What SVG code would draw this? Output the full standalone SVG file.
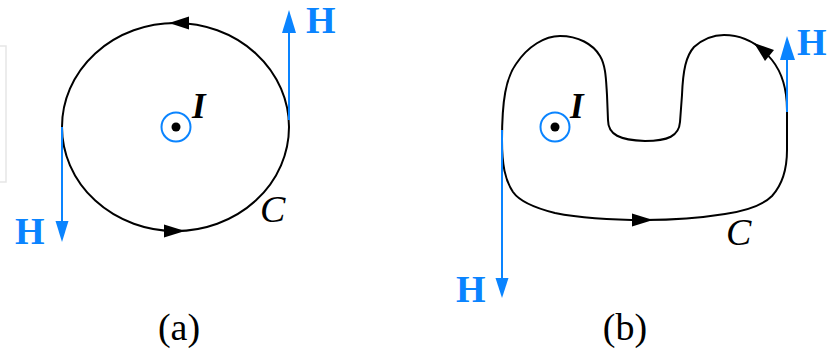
<svg xmlns="http://www.w3.org/2000/svg" width="832" height="350" viewBox="0 0 832 350">
<style>
.loop{fill:none;stroke:#000;stroke-width:2}
.ah{fill:#000;stroke:none}
.hline{stroke:#0a84ff;stroke-width:2;fill:none}
.hhead{fill:#0a84ff;stroke:none}
.hlab{font-family:"Liberation Serif","Times New Roman",serif;font-weight:bold;font-size:38px;fill:#0a84ff}
.it{font-family:"Liberation Serif","Times New Roman",serif;font-style:italic;font-size:38px;fill:#000}
.itb{font-family:"Liberation Serif","Times New Roman",serif;font-style:italic;font-weight:bold;font-size:35px;fill:#000}
.cap{font-family:"Liberation Serif","Times New Roman",serif;font-size:38px;fill:#000;text-anchor:middle}
.ring{fill:none;stroke:#0a84ff;stroke-width:2}
</style>
<rect x="-2" y="46" width="8" height="136" fill="#ffffff" stroke="#e6e6e6" stroke-width="1.5"/>
<g id="loop-a">
<ellipse class="loop" cx="175.5" cy="127" rx="113.5" ry="104"/>
<polygon class="ah" points="169,23 189,16.5 189,29.5"/>
<polygon class="ah" points="185,231 164,224.5 164,237.5"/>
<text class="it" x="260" y="222">C</text>
</g>
<g id="current-a">
<circle class="ring" cx="176" cy="127" r="14.5"/>
<circle cx="176" cy="127" r="4.5" fill="#000"/>
<text class="itb" x="192" y="118">I</text>
</g>
<g id="loop-b">
<path class="loop" d="M 502,140 C 502,100 506,78 516,64 C 528,46 545,36 560,36 C 578,36 593,44 600,56 C 606,66 606,80 607,95 L 608,120 C 608,135 620,140 645,141 C 668,141 679,136 680,122 L 682,95 C 683,70 686,56 694,47 C 703,39 712,35 724,35 C 745,35 760,45 772,60 C 784,75 787,92 787,110 L 787,150 C 787,170 782,185 772,196 C 762,206 745,211 725,214 C 700,218 670,220 645,220 C 610,220 575,217 555,213 C 535,208 520,202 513,192 C 505,180 502,165 502,140 Z"/>
<polygon class="ah" points="653,220 632,213.5 632,226.5"/>
<polygon class="ah" points="754,43 774,50 765,61"/>
<text class="it" x="726" y="245">C</text>
</g>
<g id="current-b">
<circle class="ring" cx="555" cy="127" r="14.5"/>
<circle cx="555" cy="127" r="4.5" fill="#000"/>
<text class="itb" x="570" y="118">I</text>
</g>
<g id="connectors">
<line class="hline" x1="289" y1="120" x2="289" y2="28"/>
<polygon class="hhead" points="289,10 282,33 296,33"/>
<line class="hline" x1="62" y1="127" x2="62" y2="225"/>
<polygon class="hhead" points="62,242 55.5,221 68.5,221"/>
<line class="hline" x1="787" y1="112" x2="787" y2="55"/>
<polygon class="hhead" points="787,36 780,60 795,60"/>
<line class="hline" x1="502" y1="130" x2="502" y2="282"/>
<polygon class="hhead" points="502,298 495.5,278 508.5,278"/>
</g>
<g id="labels">
<text class="hlab" x="306" y="33">H</text>
<text class="hlab" x="15" y="244">H</text>
<text class="hlab" x="797" y="55">H</text>
<text class="hlab" x="456" y="302">H</text>
<text class="cap" x="179" y="340">(a)</text>
<text class="cap" x="625" y="340">(b)</text>
</g>
</svg>
